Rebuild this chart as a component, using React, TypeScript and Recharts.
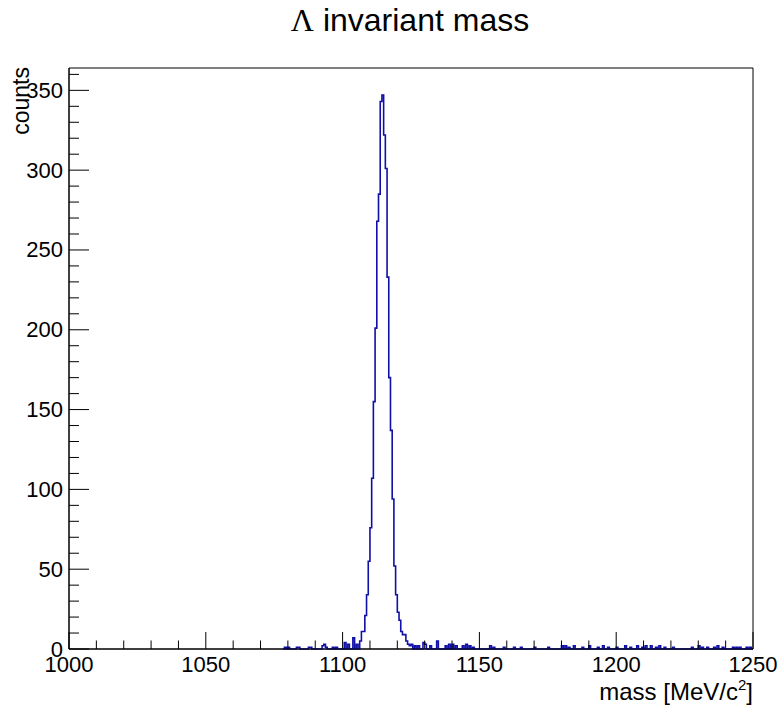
import React from 'react';
import { LineChart, Line, XAxis, YAxis, ReferenceArea } from 'recharts';

// histogram binning (ROOT-style, 400 bins over 1000-1250 MeV)
const X_MIN = 1000;
const X_MAX = 1250;
const BIN_WIDTH = 0.625;
const Y_MAX = 364;

// Lambda peak, consecutive bins starting at PEAK_START
const PEAK_START = 1106.25;
const PEAK_COUNTS = [
  5, 11, 11, 21, 34, 55, 76, 107, 155, 201, 268, 285, 343, 347, 322,
  301, 233, 170, 137, 94, 52, 34, 23, 18, 11, 9, 9, 5, 3, 2,
];

// background bins: [mass, counts]
const NOISE: [number, number][] = [
  [1079, 1], [1080.2, 1], [1083.5, 1], [1084.3, 1], [1087.5, 1], [1088.5, 1],
  [1092.5, 2], [1093.3, 3], [1094, 1], [1096.3, 1], [1097.5, 1], [1101, 4],
  [1102, 3], [1104, 7], [1105, 3], [1105.6, 3],
  [1125.5, 3], [1126.3, 2], [1127.5, 2], [1129.5, 4], [1130.5, 3], [1132, 2],
  [1134.9, 5], [1137.5, 2], [1139, 3], [1140.5, 3], [1141.5, 2], [1144, 2],
  [1145, 3], [1146.5, 2], [1148, 1], [1154, 2], [1155.5, 1], [1159, 1],
  [1162.5, 1], [1165, 1], [1170, 1], [1175.5, 1], [1180.5, 2], [1181.5, 2],
  [1183, 1], [1184.5, 2], [1188, 1], [1190.5, 2], [1193.5, 1], [1195, 2],
  [1197, 1], [1200.5, 1], [1203.5, 2], [1205.5, 1], [1208, 2], [1209.5, 1],
  [1211, 2], [1213, 2], [1214.5, 1], [1216, 2], [1218, 1], [1221, 1],
  [1228, 1], [1230, 2], [1231.5, 1], [1233.5, 1], [1236, 1], [1237, 2],
  [1239, 1], [1242.5, 1], [1244, 1], [1245.5, 1], [1247.5, 1], [1249, 1],
];

const X_TICKS = [1000, 1010, 1020, 1030, 1040, 1050, 1060, 1070, 1080, 1090, 1100,
  1110, 1120, 1130, 1140, 1150, 1160, 1170, 1180, 1190, 1200, 1210, 1220, 1230, 1240, 1250];
const Y_TICKS = [0, 10, 20, 30, 40, 50, 60, 70, 80, 90, 100, 110, 120, 130, 140, 150,
  160, 170, 180, 190, 200, 210, 220, 230, 240, 250, 260, 270, 280, 290, 300, 310,
  320, 330, 340, 350, 360];

const FONT = '"Liberation Sans", Arial, Helvetica, sans-serif';
const LINE_COLOR = '#1010a8';

function buildHistogram() {
  const nBins = Math.round((X_MAX - X_MIN) / BIN_WIDTH);
  const counts = new Array(nBins).fill(0);
  const start = Math.round((PEAK_START - X_MIN) / BIN_WIDTH);
  PEAK_COUNTS.forEach((c, i) => {
    counts[start + i] = c;
  });
  NOISE.forEach(([m, c]) => {
    counts[Math.floor((m - X_MIN) / BIN_WIDTH)] = c;
  });
  const first = Math.max(0, counts.findIndex((c) => c > 0) - 1);
  const pts = [];
  for (let i = first; i < nBins; i++) {
    pts.push({ x: X_MIN + i * BIN_WIDTH, y: counts[i] });
  }
  pts.push({ x: X_MAX, y: counts[nBins - 1] });
  return pts;
}

const data = buildHistogram();

const XTick = (props: any) => {
  const { x, y, payload } = props;
  const v = payload.value;
  const major = v % 50 === 0;
  return (
    <g>
      <line x1={x} x2={x} y1={y} y2={y - (major ? 17 : 8.5)} stroke="#000" strokeWidth={1} />
      {major && (
        <text x={x} y={y + 23} textAnchor="middle" fontSize={22} fontFamily={FONT} fill="#000">
          {v}
        </text>
      )}
    </g>
  );
};

const YTick = (props: any) => {
  const { x, y, payload } = props;
  const v = payload.value;
  const major = v % 50 === 0;
  return (
    <g>
      <line x1={x} x2={x + (major ? 20 : 10)} y1={y} y2={y} stroke="#000" strokeWidth={1} />
      {major && (
        <text x={x - 6} y={y} textAnchor="end" dominantBaseline="central" fontSize={22} fontFamily={FONT} fill="#000">
          {v}
        </text>
      )}
    </g>
  );
};

export default function App() {
  return (
    <div style={{ position: 'absolute', left: 0, top: 0, width: 782, height: 705, background: '#fff' }}>
      <LineChart width={782} height={705} data={data} margin={{ top: 68, right: 29, bottom: 26, left: 9 }}>
        <XAxis
          type="number"
          dataKey="x"
          domain={[X_MIN, X_MAX]}
          ticks={X_TICKS}
          interval={0}
          tickSize={0}
          tickMargin={0}
          tickLine={false}
          height={30}
          tick={<XTick />}
          axisLine={{ stroke: '#000' }}
        />
        <YAxis
          type="number"
          domain={[0, Y_MAX]}
          ticks={Y_TICKS}
          interval={0}
          tickSize={0}
          tickMargin={0}
          tickLine={false}
          width={60}
          tick={<YTick />}
          axisLine={{ stroke: '#000' }}
        />
        <ReferenceArea x1={X_MIN} x2={X_MAX} y1={0} y2={Y_MAX} fill="none" stroke="#000" strokeWidth={1} />
        <Line
          type="stepAfter"
          dataKey="y"
          stroke={LINE_COLOR}
          strokeWidth={1.6}
          dot={false}
          isAnimationActive={false}
        />
      </LineChart>
      <svg
        width={782}
        height={705}
        style={{ position: 'absolute', left: 0, top: 0, pointerEvents: 'none' }}
      >
        <text x={410} y={31} textAnchor="middle" fontSize={32} fontFamily={FONT} fill="#000">
          <tspan fontFamily='"Liberation Serif", "Times New Roman", serif'>Λ</tspan> invariant mass
        </text>
        <text
          transform="translate(29,67) rotate(-90)"
          textAnchor="end"
          fontSize={23}
          fontFamily={FONT}
          fill="#000"
        >
          counts
        </text>
        <text x={753} y={700} textAnchor="end" fontSize={24} fontFamily={FONT} fill="#000">
          mass [MeV/c<tspan fontSize={15} dy={-10}>2</tspan>
          <tspan dy={10}>]</tspan>
        </text>
      </svg>
    </div>
  );
}
